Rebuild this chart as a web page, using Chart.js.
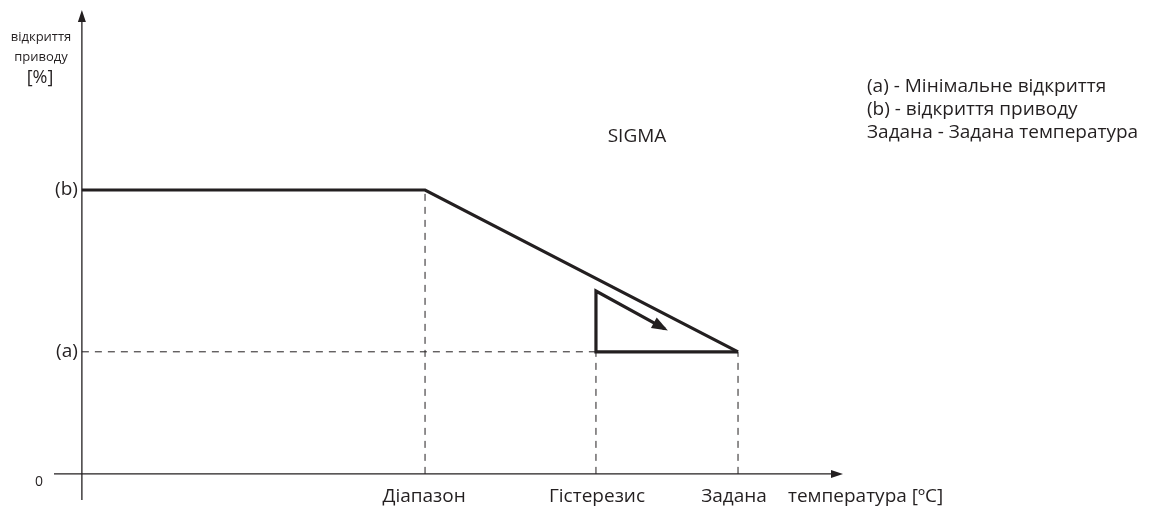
<!DOCTYPE html>
<html><head><meta charset="utf-8">
<script src="https://cdn.jsdelivr.net/npm/chart.js@4.4.0/dist/chart.umd.min.js"></script>
<style>html,body{margin:0;padding:0;background:#fff}#wrap{width:1150px;height:509px}</style>
</head><body><div id="wrap"><canvas id="c" width="1150" height="509"></canvas></div>
<script>
// categories on temperature axis and their positions
const categories = ['Діапазон', 'Гістерезис', 'Задана'];
const categoryX = [10.46, 15.67, 20];
// level labels on the opening axis
const levelLabels = ['(a)', '(b)'];
const levelValues = [43, 100];
// main characteristic (SIGMA)
const sigmaX = [0, 10.46, 20];
const sigmaY = [100, 100, 43];
// hysteresis triangle path (arrow tip first)
const hystX = [17.77, 15.67, 15.67, 20];
const hystY = [51.1, 64.4, 43, 43];
const title = 'SIGMA';
const xTitle = 'температура [ºC]';
const yTitle = ['відкриття', 'приводу', '[%]'];
const legendLines = ['(a) - Мінімальне відкриття', '(b) - відкриття приводу', 'Задана - Задана температура'];

const X_MIN = -0.85, X_MAX = 23.2, Y_MIN = -9.2, Y_MAX = 163.4;
const INK = '#231f20';
const FONT = '"Open Sans"';
const pts = (xs, ys) => xs.map((x, i) => ({x, y: ys[i]}));

const datasets = [
  {data: [{x: X_MIN, y: 0}, {x: X_MAX - 0.2, y: 0}], borderColor: INK, borderWidth: 1.3},
  {data: [{x: 0, y: Y_MIN}, {x: 0, y: Y_MAX - 2}], borderColor: INK, borderWidth: 1.3},
  {data: [{x: 0, y: levelValues[0]}, {x: categoryX[1], y: levelValues[0]}], borderColor: INK, borderWidth: 1, borderDash: [7, 6]},
  {data: [{x: categoryX[0], y: 0}, {x: categoryX[0], y: levelValues[1]}], borderColor: INK, borderWidth: 1, borderDash: [7, 6]},
  {data: [{x: categoryX[1], y: 0}, {x: categoryX[1], y: levelValues[0]}], borderColor: INK, borderWidth: 1, borderDash: [7, 6]},
  {data: [{x: categoryX[2], y: 0}, {x: categoryX[2], y: levelValues[0]}], borderColor: INK, borderWidth: 1, borderDash: [7, 6]},
  {data: pts(sigmaX, sigmaY), borderColor: INK, borderWidth: 3.2},
  {data: pts(hystX, hystY), borderColor: INK, borderWidth: 3.2, borderJoinStyle: 'miter'}
];
datasets.forEach(d => { d.showLine = true; d.pointRadius = 0; d.fill = false; d.tension = 0; });

function arrowHead(ctx, x0, y0, x1, y1, len, half) {
  const a = Math.atan2(y1 - y0, x1 - x0);
  ctx.beginPath();
  ctx.moveTo(x1, y1);
  ctx.lineTo(x1 - len * Math.cos(a) + half * Math.sin(a), y1 - len * Math.sin(a) - half * Math.cos(a));
  ctx.lineTo(x1 - len * Math.cos(a) - half * Math.sin(a), y1 - len * Math.sin(a) + half * Math.cos(a));
  ctx.closePath();
  ctx.fill();
}

const decor = {
  id: 'decor',
  afterDatasetsDraw(chart) {
    const {ctx, scales: {x, y}} = chart;
    ctx.save();
    ctx.fillStyle = INK;
    // axis arrows
    arrowHead(ctx, x.getPixelForValue(0), y.getPixelForValue(0), x.getPixelForValue(X_MAX), y.getPixelForValue(0), 12, 4);
    arrowHead(ctx, x.getPixelForValue(0), y.getPixelForValue(0), x.getPixelForValue(0), y.getPixelForValue(Y_MAX), 12, 4);
    // hysteresis arrow
    arrowHead(ctx, x.getPixelForValue(hystX[1]), y.getPixelForValue(hystY[1]), x.getPixelForValue(hystX[0]) + 3, y.getPixelForValue(hystY[0]) + 1.6, 16, 6);
    // level labels
    ctx.font = '19px ' + FONT;
    ctx.textAlign = 'right'; ctx.textBaseline = 'middle';
    levelLabels.forEach((l, i) => ctx.fillText(l, x.getPixelForValue(0) - 4, y.getPixelForValue(levelValues[i])));
    ctx.font = '14px ' + FONT;
    ctx.textAlign = 'center';
    ctx.fillText('0', 39, 482);
    // category labels
    ctx.font = '19px ' + FONT;
    ctx.textBaseline = 'alphabetic';
    const shift = [-1, 1, -4];
    categories.forEach((c, i) => ctx.fillText(c, x.getPixelForValue(categoryX[i]) + shift[i], 502));
    ctx.textAlign = 'left';
    ctx.fillText(xTitle, 788, 502);
    // y title
    ctx.textAlign = 'center';
    ctx.textBaseline = 'middle';
    ctx.font = '13px ' + FONT;
    ctx.fillText(yTitle[0], 41, 37);
    ctx.fillText(yTitle[1], 41, 57);
    ctx.font = '18px ' + FONT;
    ctx.fillText(yTitle[2], 40, 78);
    // title
    ctx.textBaseline = 'alphabetic';
    ctx.font = '19px ' + FONT;
    ctx.fillText(title, 637, 142);
    // legend
    ctx.textAlign = 'left';
    legendLines.forEach((l, i) => ctx.fillText(l, 867, 92 + i * 23));
    ctx.restore();
  }
};

new Chart(document.getElementById('c'), {
  type: 'scatter',
  data: {datasets},
  options: {
    responsive: false, animation: false,
    layout: {padding: {left: 54, right: 307, top: 10, bottom: 9}},
    plugins: {legend: {display: false}, tooltip: {enabled: false}},
    scales: {
      x: {type: 'linear', min: X_MIN, max: X_MAX, display: false},
      y: {type: 'linear', min: Y_MIN, max: Y_MAX, display: false}
    }
  },
  plugins: [decor]
});
</script></body></html>
